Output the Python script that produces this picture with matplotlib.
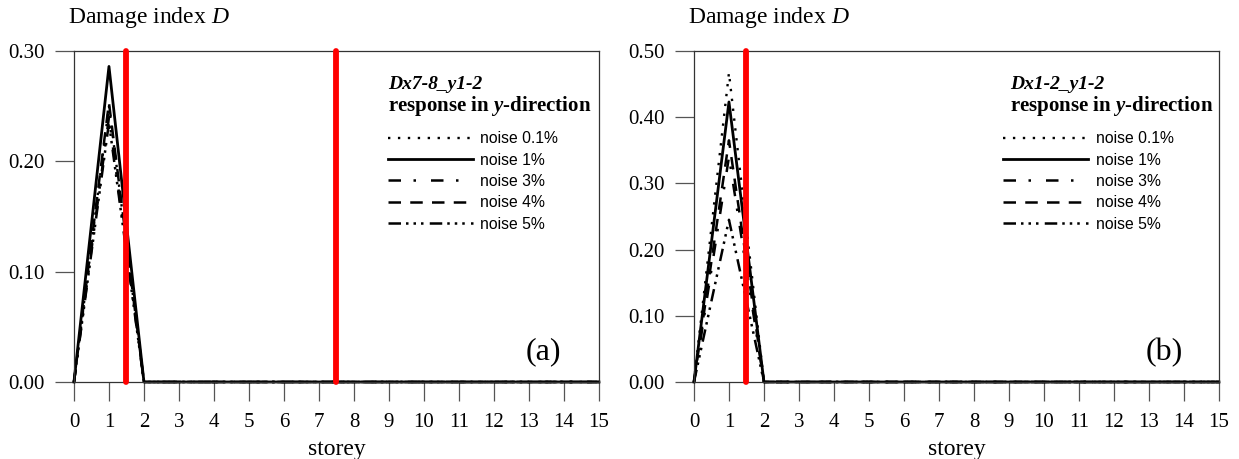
import matplotlib
matplotlib.use("Agg")
import matplotlib.pyplot as plt
import numpy as np

plt.rcParams['font.family'] = 'Liberation Serif'
plt.rcParams['mathtext.fontset'] = 'custom'
plt.rcParams['mathtext.rm'] = 'Liberation Serif'
plt.rcParams['mathtext.it'] = 'Liberation Serif:italic'
plt.rcParams['mathtext.bf'] = 'Liberation Serif:bold'
plt.rcParams['mathtext.bfit'] = 'Liberation Serif:bold:italic'

storey = np.arange(0, 16)
labels = ['noise 0.1%', 'noise 1%', 'noise 3%', 'noise 4%', 'noise 5%']

# peak damage at storey 1, zero elsewhere
peaks_a = [0.250, 0.286, 0.240, 0.253, 0.235]
peaks_b = [0.467, 0.423, 0.340, 0.365, 0.245]
damaged_a = [1.5, 7.5]
damaged_b = [1.5]

styles = [(0, (1, 3.2)), '-', (0, (5, 5, 1, 6)), (0, (5, 3.7)), (0, (5, 2, 1, 2, 1, 2, 1, 2.5))]
widths = [1.7, 2.0, 1.8, 1.8, 1.8]


def panel(ax, peaks, damaged, ymax, title, tag, legx, hdrx):
    for pk, lab, ls, lw in zip(peaks, labels, styles, widths):
        vals = np.zeros(len(storey))
        vals[1] = pk
        ax.plot(storey, vals, color='black', ls=ls, lw=lw, label=lab, clip_on=False)
    for d in damaged:
        ax.plot([d, d], [0, ymax], color='red', lw=4.2, solid_capstyle='round', clip_on=False, zorder=5)
    ax.set_xlim(0, 15)
    ax.set_ylim(0, ymax)
    ax.set_xticks(storey)
    ax.set_yticks(np.arange(0, ymax + 1e-9, 0.1))
    ax.yaxis.set_major_formatter(matplotlib.ticker.FormatStrFormatter('%.2f'))
    ax.tick_params(axis='y', length=14, width=0.9, color='#555555', labelsize=15, pad=7)
    ax.tick_params(axis='x', length=13.5, width=0.9, color='#555555', labelsize=15, pad=9)
    for s in ax.spines.values():
        s.set_color('#333333')
        s.set_linewidth(0.9)
    ax.set_xlabel('storey', fontsize=17, labelpad=5)
    ax.text(-0.012, 1.10, r'Damage index $\mathit{D}$', transform=ax.transAxes,
            fontsize=17, ha='left', va='center')
    ax.text(hdrx, 0.90, title, transform=ax.transAxes, fontsize=14,
            ha='left', va='center', fontweight='bold', fontstyle='italic')
    ax.text(hdrx, 0.835, r'response in $\mathbfit{y}$-direction', transform=ax.transAxes,
            fontsize=15, ha='left', va='center', fontweight='bold')
    ax.text(0.895, 0.09, tag, transform=ax.transAxes, fontsize=23, ha='center', va='center')
    ax.legend(loc='upper left', bbox_to_anchor=(legx, 0.757), frameon=False,
              prop={'family': 'Liberation Sans', 'size': 11.3},
              handlelength=5.4, handletextpad=0.5, labelspacing=0.4,
              borderaxespad=0, borderpad=0)


fig = plt.figure(figsize=(12.39, 4.59), dpi=100)
ax1 = fig.add_axes([0.0597, 0.1678, 0.4237, 0.7211])
ax2 = fig.add_axes([0.5601, 0.1678, 0.4237, 0.7211])

panel(ax1, peaks_a, damaged_a, 0.30, 'Dx7-8_y1-2', '(a)', 0.598, 0.598)
panel(ax2, peaks_b, damaged_b, 0.50, 'Dx1-2_y1-2', '(b)', 0.589, 0.602)

fig.savefig('out.png', dpi=100)
